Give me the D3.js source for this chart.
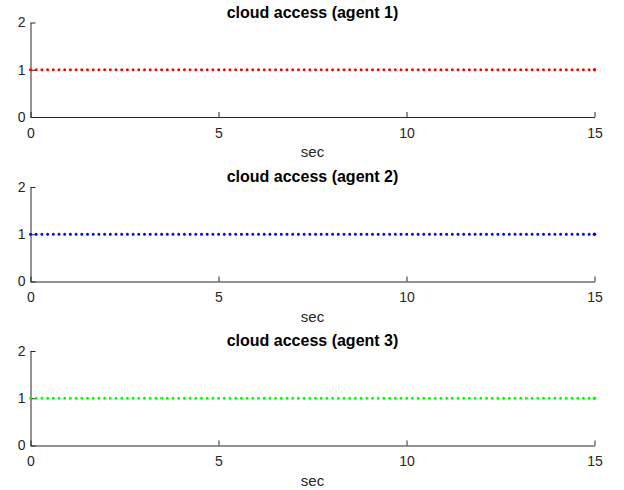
<!DOCTYPE html>
<html>
<head>
<meta charset="utf-8">
<script src="https://cdn.jsdelivr.net/npm/d3@7"></script>
<style>
  html, body { margin: 0; padding: 0; background: #fff; }
  svg { display: block; }
  text { font-family: "Liberation Sans", Arial, Helvetica, sans-serif; fill: #262626; }
</style>
</head>
<body>
<svg id="chart" width="624" height="490"></svg>
<script>
// Cloud access state per agent over time (seconds)
const agents = ["agent 1", "agent 2", "agent 3"];
const times = [0, 15];
const accessAgent1 = [1, 1];
const accessAgent2 = [1, 1];
const accessAgent3 = [1, 1];
const xTicks = [0, 5, 10, 15];
const yTicks = [0, 1, 2];
const seriesColors = ["#ff0000", "#0000ff", "#00ff00"];

const series = [accessAgent1, accessAgent2, accessAgent3];

const svg = d3.select("#chart");
const left = 30.5, right = 594.5;
const panelTops = [22.5, 187, 351];
const panelHeight = 94.5;
const axisColor = "#262626";
const fontFamily = '"Liberation Sans", Arial, sans-serif';

const x = d3.scaleLinear().domain([0, 15]).range([left, right]);

agents.forEach((name, i) => {
  const top = panelTops[i];
  const bottom = top + panelHeight;
  const y = d3.scaleLinear().domain([0, 2]).range([bottom, top]);
  const g = svg.append("g");

  // x axis with inward ticks
  const xAxis = d3.axisBottom(x).tickValues(xTicks).tickFormat(d3.format("d"))
    .tickSizeInner(-5).tickSizeOuter(0).tickPadding(11);
  const gx = g.append("g").attr("transform", `translate(0,${bottom})`).call(xAxis);
  gx.select(".domain").attr("stroke", axisColor);
  gx.selectAll(".tick line").attr("stroke", axisColor);
  gx.selectAll(".tick text").attr("font-size", 14).attr("fill", axisColor)
    .attr("font-family", fontFamily);

  // y axis with inward ticks
  const yAxis = d3.axisLeft(y).tickValues(yTicks).tickFormat(d3.format("d"))
    .tickSizeInner(-5).tickSizeOuter(0).tickPadding(5);
  const gy = g.append("g").attr("transform", `translate(${left},0)`).call(yAxis);
  gy.select(".domain").attr("stroke", axisColor);
  gy.selectAll(".tick line").attr("stroke", axisColor);
  gy.selectAll(".tick text").attr("font-size", 14).attr("fill", axisColor)
    .attr("font-family", fontFamily);

  // dotted series line
  const pts = times.map((t, k) => [t, series[i][k]]);
  const line = d3.line().x(d => x(d[0])).y(d => y(d[1]));
  g.append("path")
    .datum(pts)
    .attr("d", line)
    .attr("fill", "none")
    .attr("stroke", seriesColors[i])
    .attr("stroke-width", 3)
    .attr("stroke-linecap", "round")
    .attr("stroke-dasharray", "0 5.7");

  // closing point at the last sample
  const last = pts[pts.length - 1];
  g.append("circle")
    .attr("cx", x(last[0])).attr("cy", y(last[1]))
    .attr("r", 1.8).attr("fill", seriesColors[i]);

  // title
  g.append("text")
    .attr("x", (left + right) / 2).attr("y", top - 5)
    .attr("text-anchor", "middle")
    .attr("font-size", 16).attr("font-weight", "bold")
    .style("fill", "#000")
    .text(`cloud access (${name})`);

  // x label
  g.append("text")
    .attr("x", (left + right) / 2).attr("y", bottom + 40)
    .attr("text-anchor", "middle")
    .attr("font-size", 15)
    .text("sec");
});
</script>
</body>
</html>
